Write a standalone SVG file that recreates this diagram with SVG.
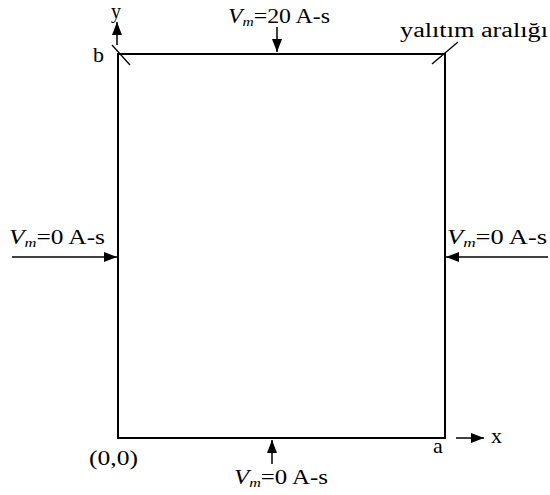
<svg xmlns="http://www.w3.org/2000/svg" width="550" height="495" viewBox="0 0 550 495">
<style>
text{font-family:"Liberation Serif","Times New Roman",serif;font-size:20px;fill:#000}
.lt{font-size:22px}
.it{font-style:italic}
.sub{font-size:13px;font-style:italic}
.frame{fill:none;stroke:#000;stroke-width:2}
.arr{stroke:#000;stroke-width:1.5;fill:none;marker-end:url(#ah)}
.gap{stroke:#000;stroke-width:1.3}
</style>
<defs>
<marker id="ah" markerUnits="userSpaceOnUse" markerWidth="14" markerHeight="10" refX="13" refY="5" orient="auto">
<path d="M0,0 L13,5 L0,10 Z" fill="#000"/>
</marker>
</defs>
<rect width="550" height="495" fill="#fff"/>
<g id="plate">
<rect class="frame" x="118" y="54" width="327" height="384"/>
<line class="gap" x1="112" y1="45" x2="130" y2="65"/>
<line class="gap" x1="432" y1="64" x2="458" y2="42"/>
<text x="400" y="37" textLength="148" lengthAdjust="spacingAndGlyphs">yalıtım aralığı</text>
<text class="lt" x="93" y="62">b</text>
<text class="lt" x="433" y="453">a</text>
<text x="89" y="465" textLength="49" lengthAdjust="spacingAndGlyphs">(0,0)</text>
</g>
<g id="axes">
<text x="111" y="18">y</text>
<text class="lt" x="491" y="443">x</text>
</g>
<g id="connectors">
<line class="arr" x1="117" y1="45" x2="117" y2="22"/>
<line class="arr" x1="456" y1="438" x2="484" y2="438"/>
<line class="arr" x1="277" y1="27" x2="277" y2="52"/>
<line class="arr" x1="12" y1="257" x2="117" y2="257"/>
<line class="arr" x1="548" y1="257" x2="446" y2="257"/>
<line class="arr" x1="272" y1="464" x2="272" y2="440"/>
</g>
<g id="label-top">
<text x="228" y="23" textLength="102" lengthAdjust="spacingAndGlyphs"><tspan class="it">V</tspan><tspan class="sub" dy="3">m</tspan><tspan dy="-3">=20 A-s</tspan></text>
</g>
<g id="label-left">
<text x="9" y="244" textLength="96" lengthAdjust="spacingAndGlyphs"><tspan class="it">V</tspan><tspan class="sub" dy="3">m</tspan><tspan dy="-3">=0 A-s</tspan></text>
</g>
<g id="label-right">
<text x="447" y="244" textLength="100" lengthAdjust="spacingAndGlyphs"><tspan class="it">V</tspan><tspan class="sub" dy="3">m</tspan><tspan dy="-3">=0 A-s</tspan></text>
</g>
<g id="label-bottom">
<text x="234" y="484" textLength="94" lengthAdjust="spacingAndGlyphs"><tspan class="it">V</tspan><tspan class="sub" dy="3">m</tspan><tspan dy="-3">=0 A-s</tspan></text>
</g>
</svg>
